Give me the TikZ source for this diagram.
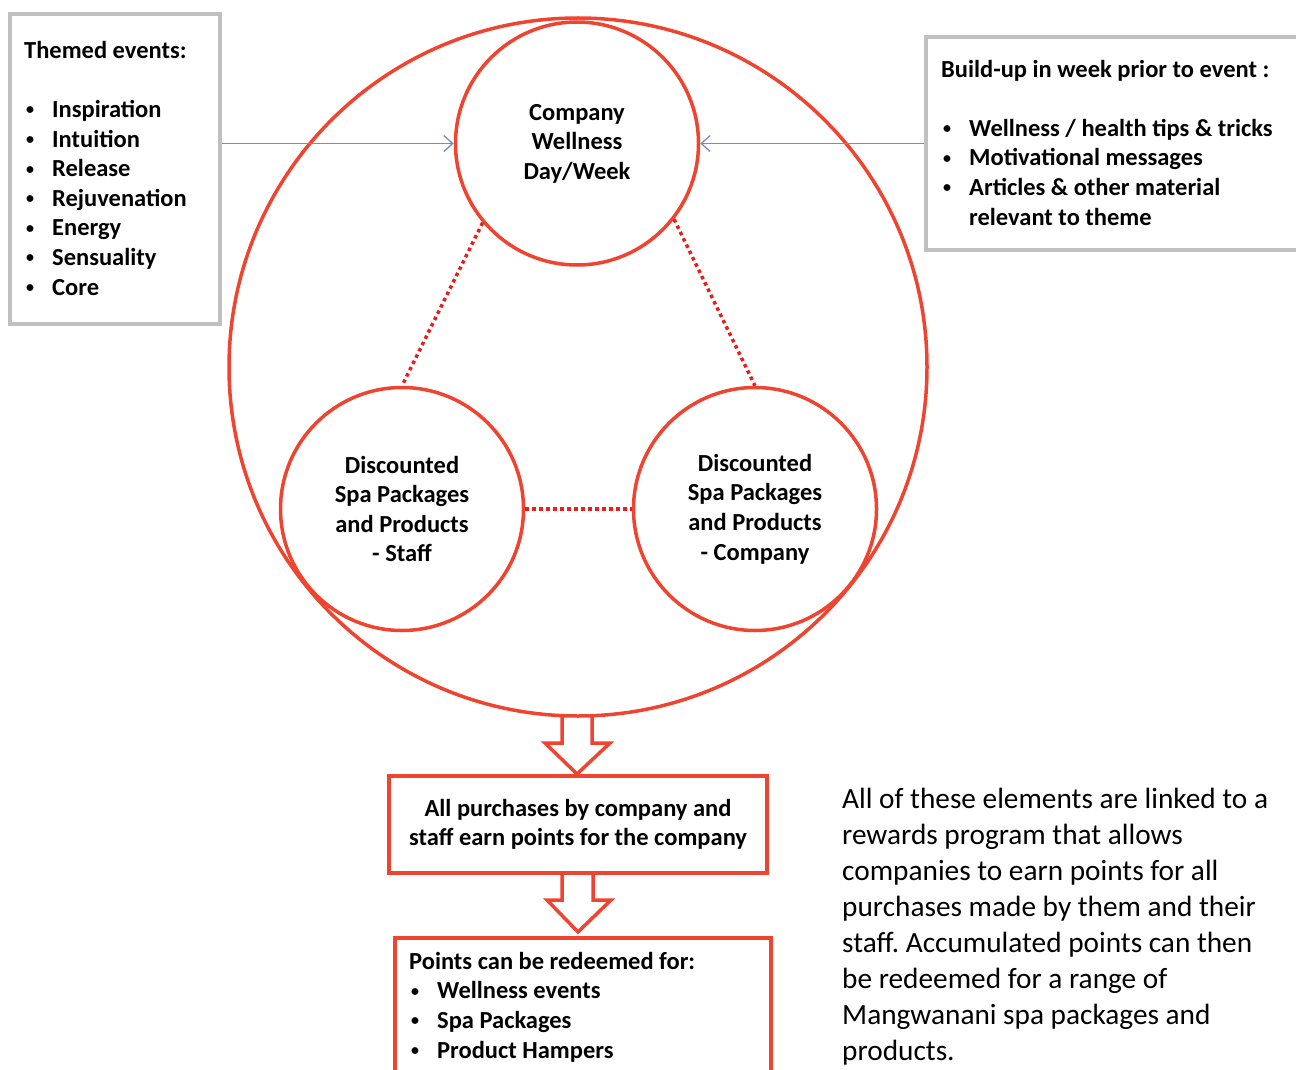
\documentclass[tikz,border=0pt]{standalone}
\usepackage{fontspec}
\setmainfont{Carlito}
\usetikzlibrary{arrows.meta}
\definecolor{spared}{RGB}{238,68,48}
\definecolor{dotred}{RGB}{232,30,30}
\definecolor{linkblue}{RGB}{105,145,205}
\definecolor{boxgray}{RGB}{192,192,192}
\newcommand{\bul}[1]{\makebox[28pt][l]{\hspace*{2pt}\raisebox{2.5pt}{\fontsize{16}{16}\selectfont\textbullet}}#1}
\frenchspacing
\begin{document}
\begin{tikzpicture}[x=1pt,y=-1pt]
  \tikzstyle{txt}=[inner sep=0pt, align=center, font=\fontsize{24.5}{29.6}\selectfont\bfseries]
  \tikzstyle{list}=[txt, align=left, anchor=base west]
  \tikzstyle{ring}=[draw=spared, line width=3.5pt, circle, inner sep=0pt]
  \tikzstyle{graybox}=[draw=boxgray, line width=3.5pt, inner sep=0pt]
  \tikzstyle{redbox}=[draw=spared, line width=3.5pt, inner sep=0pt]
  \tikzstyle{feed}=[draw=linkblue, line width=1.3pt, -{Straight Barb[length=9pt,width=16pt]}]
  \tikzstyle{link}=[draw=dotred, line width=3.5pt, dash pattern=on 3.5pt off 3.5pt]
  \tikzstyle{hollow}=[draw=spared, line width=3.5pt, line join=miter]
  \useasboundingbox (0,0) rectangle (1296,1070);
  \node[ring, minimum size=698pt] (outer) at (578,367) {};
  \node[ring, txt, minimum size=243pt] (wellness) at (577,143.5) {Company\\Wellness\\Day/Week};
  \node[ring, txt, minimum size=243pt] (staff) at (402,509) {Discounted\\Spa Packages\\and Products\\- Staff};
  \node[ring, txt, minimum size=243pt] (company) at (755,509) {Discounted\\Spa Packages\\and Products\\- Company};
  \draw[link] (wellness.220) -- (staff.north);
  \draw[link] (wellness.-38) -- (company.north);
  \draw[link] (staff.east) -- (company.west);
  \node[graybox, minimum width=210pt, minimum height=310pt] (themes) at (115,169) {};
  \node[list] (themelist) at (24,295) {Themed events:\\[29.6pt]
    \bul{Inspiration}\\\bul{Intuition}\\\bul{Release}\\\bul{Rejuvenation}\\
    \bul{Energy}\\\bul{Sensuality}\\\bul{Core}};
  \node[graybox, minimum width=376pt, minimum height=213pt] (buildup) at (1114,143.5) {};
  \node[list] (builduplist) at (941,225) {Build-up in week prior to event :\\[29.6pt]
    \bul{Wellness / health tips \& tricks}\\\bul{Motivational messages}\\
    \bul{Articles \& other material}\\\hspace*{28pt}relevant to theme};
  \draw[feed] (themes.east |- wellness.west) -- (wellness.west);
  \draw[feed] (buildup.west |- wellness.east) -- (wellness.east);
  \draw[hollow] (562,714) -- (562,743) -- (545,743) -- (577,774) -- (610,743) -- (592,743) -- (592,714);
  \node[redbox, txt, minimum width=378pt, minimum height=97pt] (earn) at (578,824.5) {All purchases by company and\\staff earn points for the company};
  \draw[hollow] (earn.south -| 562,0) -- (562,900) -- (547,900) -- (578,932) -- (611,900) -- (593,900) -- (earn.south -| 593,0);
  \node[redbox, minimum width=376pt, minimum height=150pt, anchor=north] (redeem) at (583,936) {};
  \node[list] (redeemlist) at (409,1058) {Points can be redeemed for:\\
    \bul{Wellness events}\\\bul{Spa Packages}\\\bul{Product Hampers}};
  \node[anchor=base west, inner sep=0pt, align=left, font=\fontsize{29.3}{36}\selectfont] (note) at (842,1060)
    {All of these elements are linked to a\\rewards program that allows\\companies to earn points for all\\
    purchases made by them and their\\staff. Accumulated points can then\\be redeemed for a range of\\
    Mangwanani spa packages and\\products.};
\end{tikzpicture}
\end{document}
